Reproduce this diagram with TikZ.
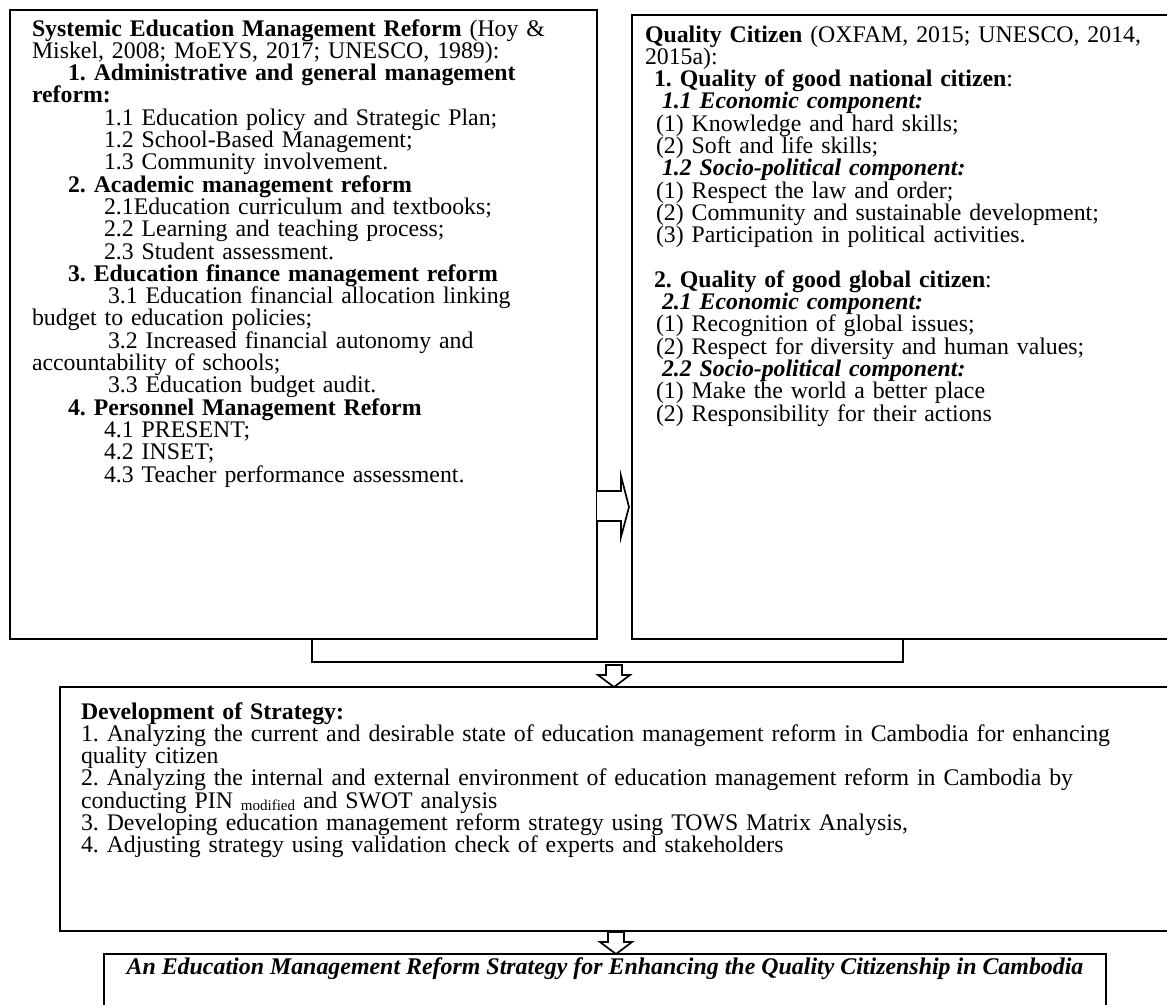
\documentclass[tikz,border=0pt]{standalone}
\usepackage{fontspec}
\setmainfont{Liberation Serif}
\frenchspacing
\setlength{\lineskiplimit}{-100pt}
\begin{document}
\begin{tikzpicture}[x=1pt,y=-1pt,
  box/.style={draw, line width=1.7pt, inner sep=0pt, outer sep=0pt, anchor=north west},
  txt/.style={anchor=base west, inner sep=0pt, outer sep=0pt, align=left, text width=#1,
              font=\fontsize{23.8}{22.3}\selectfont},
  blockarrow/.style={draw, line width=1.7pt, fill=white, line join=miter},
  link/.style={draw, line width=1.7pt},
]
\useasboundingbox (0,0) rectangle (1167,1004);

% boxes
\node[box, minimum width=587pt, minimum height=629pt] (L) at (10,10) {};
\node[box, minimum width=560pt, minimum height=624pt] (R) at (632,15) {};
\node[box, minimum width=1130pt, minimum height=244pt] (M) at (60,687) {};
\node[box, minimum width=1002pt, minimum height=70pt] (F) at (104,954) {};

% left text
\node[txt=580pt] (Ltext) at (32,36) {%
\textbf{Systemic Education Management Reform} (Hoy \&\\
Miskel, 2008; MoEYS, 2017; UNESCO, 1989):\\
\hspace*{36pt}\textbf{1. Administrative and general management}\\
\textbf{reform:}\\
\hspace*{72pt}1.1 Education policy and Strategic Plan;\\
\hspace*{72pt}1.2 School-Based Management;\\
\hspace*{72pt}1.3 Community involvement.\\
\hspace*{36pt}\textbf{2. Academic management reform}\\
\hspace*{72pt}2.1Education curriculum and textbooks;\\
\hspace*{72pt}2.2 Learning and teaching process;\\
\hspace*{72pt}2.3 Student assessment.\\
\hspace*{36pt}\textbf{3. Education finance management reform}\\
\hspace*{76pt}3.1 Education financial allocation linking\\
budget to education policies;\\
\hspace*{76pt}3.2 Increased financial autonomy and\\
accountability of schools;\\
\hspace*{76pt}3.3 Education budget audit.\\
\hspace*{36pt}\textbf{4. Personnel Management Reform}\\
\hspace*{72pt}4.1 PRESENT;\\
\hspace*{72pt}4.2 INSET;\\
\hspace*{72pt}4.3 Teacher performance assessment.};

% right text
\node[txt=540pt] (Rtext) at (645,42) {%
\textbf{Quality Citizen} (OXFAM, 2015; UNESCO, 2014,\\
2015a):\\
\hspace*{9pt}\textbf{1. Quality of good national citizen}:\\
\hspace*{17pt}\textbf{\textit{1.1 Economic component:}}\\
\hspace*{11pt}(1) Knowledge and hard skills;\\
\hspace*{11pt}(2) Soft and life skills;\\
\hspace*{17pt}\textbf{\textit{1.2 Socio-political component:}}\\
\hspace*{11pt}(1) Respect the law and order;\\
\hspace*{11pt}(2) Community and sustainable development;\\
\hspace*{11pt}(3) Participation in political activities.\\[22.3pt]
\hspace*{9pt}\textbf{2. Quality of good global citizen}:\\
\hspace*{17pt}\textbf{\textit{2.1 Economic component:}}\\
\hspace*{11pt}(1) Recognition of global issues;\\
\hspace*{11pt}(2) Respect for diversity and human values;\\
\hspace*{17pt}\textbf{\textit{2.2 Socio-political component:}}\\
\hspace*{11pt}(1) Make the world a better place\\
\hspace*{11pt}(2) Responsibility for their actions};

% middle text
\node[txt=1100pt] (Mtext) at (81,719) {%
\textbf{Development of Strategy:}\\
1. Analyzing the current and desirable state of education management reform in Cambodia for enhancing\\
quality citizen\\
2. Analyzing the internal and external environment of education management reform in Cambodia by\\
conducting PIN {\fontsize{15}{15}\selectfont\raisebox{-2pt}{modified}} and SWOT analysis\\
3. Developing education management reform strategy using TOWS Matrix Analysis,\\
4. Adjusting strategy using validation check of experts and stakeholders};

% final text
\node[anchor=base, inner sep=0pt, font=\fontsize{23.9}{22.3}\selectfont\bfseries\itshape] (Ftext) at (605,974)
  {An Education Management Reform Strategy for Enhancing the Quality Citizenship in Cambodia};

% right block arrow L -> R
\coordinate (ra) at (L.east |- 0,506);
\draw[blockarrow] (ra) ++(0,-15) -- ++(24,0) -- ++(0,-15) -- ++(8,31) -- ++(-8,30) -- ++(0,-16) -- ++(-24,0);

% bracket connector
\coordinate (b1) at (L.south -| 312,0);
\coordinate (b2) at (R.south -| 903,0);
\draw[link] (b1) -- ++(0,23) -| (b2);

% down arrows
\coordinate (d1) at (M.north -| 614,0);
\draw[blockarrow] (d1) -- ++(-16,-12) -- ++(8,0) -- ++(0,-10) -- ++(16,0) -- ++(0,10) -- ++(8,0) -- cycle;
\coordinate (d2) at (F.north -| 616,0);
\draw[blockarrow] (d2) -- ++(-16,-12) -- ++(8,0) -- ++(0,-10) -- ++(16,0) -- ++(0,10) -- ++(8,0) -- cycle;
\end{tikzpicture}
\end{document}
